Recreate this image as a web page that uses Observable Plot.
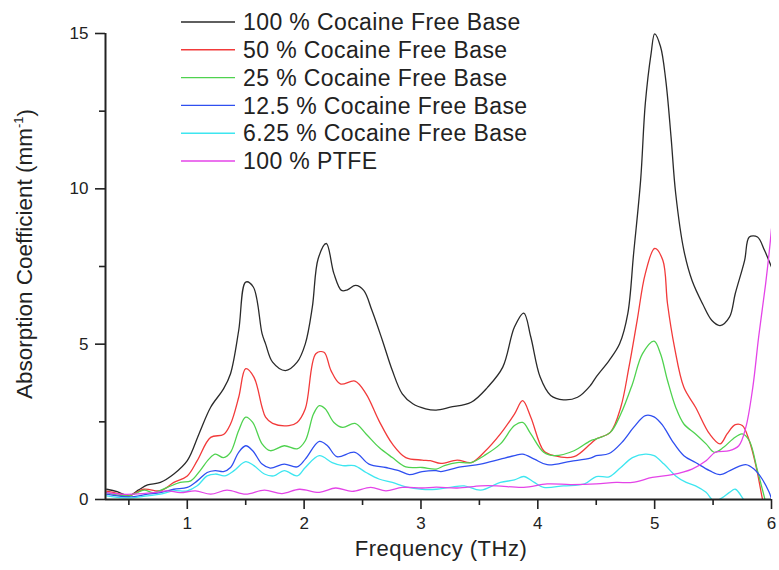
<!DOCTYPE html>
<html>
<head>
<meta charset="utf-8">
<script src="https://cdn.jsdelivr.net/npm/d3@7"></script>
<script src="https://cdn.jsdelivr.net/npm/@observablehq/plot@0.6"></script>
<style>
  html, body { margin: 0; padding: 0; background: #fff; }
  #chart { width: 779px; height: 570px; }
  svg text { font-family: "Liberation Sans", Arial, sans-serif; }
</style>
</head>
<body>
<div id="chart"></div>
<script>
// Absorption spectra, [frequency THz, absorption coefficient mm^-1]
const cocaine100 = [[0.31,0.33],[0.40,0.25],[0.50,0.12],[0.58,0.30],[0.66,0.47],[0.77,0.55],[0.885,0.82],[1.0,1.25],[1.10,2.11],[1.20,2.97],[1.31,3.56],[1.37,4.05],[1.44,5.44],[1.50,7.0],[1.565,6.84],[1.64,5.34],[1.67,5.01],[1.73,4.42],[1.84,4.15],[1.94,4.42],[2.01,5.01],[2.07,6.19],[2.12,7.75],[2.19,8.24],[2.255,7.27],[2.32,6.73],[2.37,6.75],[2.44,6.89],[2.51,6.73],[2.58,6.09],[2.67,5.12],[2.755,4.15],[2.84,3.40],[2.93,3.08],[3.04,2.92],[3.13,2.88],[3.25,2.97],[3.43,3.13],[3.57,3.61],[3.70,4.26],[3.80,5.55],[3.88,6.0],[3.94,5.23],[4.02,3.94],[4.11,3.35],[4.22,3.21],[4.34,3.29],[4.45,3.67],[4.50,3.95],[4.61,4.47],[4.70,5.01],[4.77,5.98],[4.82,7.92],[4.88,10.28],[4.92,12.75],[4.97,14.37],[5.00,14.99],[5.05,14.58],[5.095,13.5],[5.14,11.68],[5.18,9.85],[5.25,8.02],[5.32,7.05],[5.41,6.30],[5.49,5.76],[5.56,5.60],[5.64,5.87],[5.69,6.63],[5.77,7.70],[5.81,8.45],[5.88,8.45],[5.94,8.02],[6.0,7.48]];
const cocaine50 = [[0.31,0.27],[0.40,0.20],[0.50,0.12],[0.63,0.33],[0.77,0.28],[0.885,0.55],[1.0,0.76],[1.085,1.25],[1.20,2.0],[1.31,2.09],[1.37,2.43],[1.44,3.29],[1.50,4.21],[1.57,3.94],[1.64,2.97],[1.67,2.65],[1.73,2.45],[1.87,2.38],[1.94,2.48],[2.01,2.92],[2.10,4.69],[2.17,4.74],[2.23,4.15],[2.31,3.72],[2.435,3.81],[2.53,3.40],[2.64,2.54],[2.755,1.79],[2.87,1.35],[3.01,1.27],[3.08,1.25],[3.17,1.16],[3.31,1.27],[3.43,1.19],[3.54,1.52],[3.68,2.11],[3.80,2.75],[3.87,3.18],[3.94,2.65],[4.05,1.57],[4.14,1.41],[4.31,1.38],[4.45,1.79],[4.50,1.95],[4.62,2.16],[4.71,2.97],[4.78,4.26],[4.85,5.76],[4.92,7.27],[5.00,8.08],[5.07,7.70],[5.11,6.30],[5.17,4.90],[5.25,3.61],[5.35,2.97],[5.47,2.11],[5.56,1.79],[5.62,2.11],[5.69,2.41],[5.75,2.38],[5.81,1.89],[5.87,1.03],[5.92,0.06],[5.95,-0.5]];
const cocaine25 = [[0.31,0.22],[0.50,0.12],[0.63,0.30],[0.71,0.22],[0.83,0.39],[0.94,0.55],[1.03,0.60],[1.11,0.93],[1.185,1.30],[1.24,1.46],[1.31,1.35],[1.37,1.52],[1.44,2.22],[1.50,2.65],[1.56,2.48],[1.64,1.79],[1.71,1.57],[1.83,1.73],[1.94,1.63],[2.01,1.89],[2.08,2.75],[2.13,3.02],[2.18,2.92],[2.255,2.48],[2.33,2.32],[2.435,2.45],[2.53,2.11],[2.64,1.68],[2.755,1.35],[2.87,1.05],[3.01,1.03],[3.13,0.98],[3.20,1.09],[3.31,1.19],[3.43,1.19],[3.54,1.41],[3.68,1.79],[3.80,2.38],[3.87,2.48],[3.94,2.11],[4.05,1.52],[4.14,1.41],[4.31,1.57],[4.45,1.89],[4.50,1.95],[4.62,2.16],[4.71,2.75],[4.81,3.72],[4.895,4.69],[4.995,5.10],[5.05,4.69],[5.11,3.83],[5.18,2.97],[5.25,2.43],[5.35,2.11],[5.44,1.79],[5.51,1.52],[5.59,1.68],[5.67,1.95],[5.75,2.11],[5.81,1.89],[5.88,0.93],[5.94,0.06],[5.97,-0.4]];
const cocaine12 = [[0.31,0.17],[0.50,0.08],[0.66,0.17],[0.77,0.22],[0.885,0.33],[1.0,0.39],[1.085,0.60],[1.17,0.87],[1.24,0.93],[1.31,0.90],[1.37,1.03],[1.44,1.52],[1.50,1.73],[1.56,1.57],[1.64,1.14],[1.71,1.01],[1.83,1.14],[1.94,1.05],[2.01,1.30],[2.13,1.87],[2.20,1.73],[2.28,1.38],[2.435,1.52],[2.555,1.14],[2.70,1.03],[2.81,0.93],[2.90,0.80],[3.01,0.90],[3.13,0.93],[3.17,0.90],[3.34,1.05],[3.51,1.14],[3.68,1.30],[3.80,1.41],[3.87,1.46],[3.97,1.30],[4.08,1.12],[4.28,1.23],[4.45,1.33],[4.50,1.41],[4.61,1.48],[4.72,1.84],[4.82,2.32],[4.92,2.70],[4.995,2.66],[5.07,2.38],[5.15,1.89],[5.25,1.41],[5.35,1.19],[5.47,0.93],[5.56,0.80],[5.67,0.98],[5.78,1.12],[5.85,0.98],[5.92,0.66],[5.98,0.23],[6.0,0.02]];
const cocaine6 = [[0.31,0.12],[0.50,0.05],[0.66,0.12],[0.77,0.17],[0.885,0.28],[1.0,0.28],[1.085,0.44],[1.17,0.76],[1.24,0.82],[1.32,0.76],[1.40,0.93],[1.50,1.22],[1.57,1.09],[1.66,0.82],[1.74,0.76],[1.83,0.93],[1.94,0.76],[2.01,1.03],[2.13,1.41],[2.24,1.19],[2.33,1.09],[2.43,1.09],[2.53,0.87],[2.64,0.66],[2.755,0.55],[2.87,0.41],[3.01,0.33],[3.13,0.33],[3.25,0.39],[3.37,0.44],[3.51,0.30],[3.68,0.55],[3.80,0.63],[3.88,0.74],[3.97,0.55],[4.05,0.39],[4.22,0.44],[4.40,0.50],[4.50,0.74],[4.61,0.73],[4.71,1.03],[4.81,1.35],[4.92,1.46],[4.995,1.41],[5.08,1.14],[5.18,0.76],[5.27,0.55],[5.35,0.44],[5.44,0.23],[5.51,-0.05],[5.58,0.06],[5.64,0.23],[5.69,0.33],[5.75,0.06],[5.78,-0.15]];
const ptfe100 = [[0.31,0.22],[0.43,0.17],[0.54,0.17],[0.71,0.22],[0.83,0.28],[0.94,0.22],[1.07,0.28],[1.20,0.17],[1.34,0.30],[1.50,0.17],[1.66,0.30],[1.81,0.19],[1.96,0.33],[2.13,0.23],[2.27,0.37],[2.41,0.26],[2.57,0.39],[2.70,0.28],[2.84,0.39],[3.01,0.37],[3.13,0.40],[3.31,0.37],[3.51,0.44],[3.65,0.44],[3.88,0.39],[4.08,0.50],[4.28,0.48],[4.50,0.50],[4.67,0.55],[4.81,0.55],[4.98,0.71],[5.15,0.80],[5.32,0.98],[5.44,1.25],[5.52,1.52],[5.64,1.57],[5.72,1.73],[5.78,2.32],[5.84,3.61],[5.89,5.23],[5.95,6.95],[5.985,8.13],[6.0,8.72]];

const seriesNames = ["100 % Cocaine Free Base", "50 % Cocaine Free Base", "25 % Cocaine Free Base", "12.5 % Cocaine Free Base", "6.25 % Cocaine Free Base", "100 % PTFE"];
const seriesData = [cocaine100, cocaine50, cocaine25, cocaine12, cocaine6, ptfe100];
const seriesColors = ["#2a2a2a", "#f23a3a", "#4fd24f", "#2f4ff0", "#3ee6f0", "#e444e8"];

const xTicks = [1, 2, 3, 4, 5, 6];
const xMinorTicks = [0.5, 1.5, 2.5, 3.5, 4.5, 5.5];
const yTicks = [0, 5, 10, 15];
const yMinorTicks = [2.5, 7.5, 12.5];

// long table for Plot
const rows = seriesData.flatMap((pts, i) => pts.map(([f, a]) => ({series: seriesNames[i], f, a})));

const chart = Plot.plot({
  width: 779,
  height: 570,
  marginLeft: 105,
  marginRight: 8,
  marginTop: 33,
  marginBottom: 71,
  style: {background: "#fff", color: "#222", fontFamily: "Liberation Sans, Arial, sans-serif"},
  x: {domain: [0.3, 6]},
  y: {domain: [0, 15]},
  color: {domain: seriesNames, range: seriesColors},
  marks: [
    Plot.line(rows, {x: "f", y: "a", z: "series", stroke: "series", strokeWidth: 1.3, curve: "catmull-rom", clip: true}),
    Plot.axisX({ticks: xTicks, tickSize: 10, tickPadding: 7, fontSize: 17, strokeWidth: 1.6, tickFormat: d => String(d), label: null}),
    Plot.axisX({ticks: xMinorTicks, tickSize: 6, tickFormat: () => "", strokeWidth: 1.6, label: null}),
    Plot.axisY({ticks: yTicks, tickSize: 10, tickPadding: 7, fontSize: 17, strokeWidth: 1.6, tickFormat: d => String(d), label: null}),
    Plot.axisY({ticks: yMinorTicks, tickSize: 6, tickFormat: () => "", strokeWidth: 1.6, label: null}),
    Plot.ruleX([0.3], {stroke: "#222", strokeWidth: 2}),
    Plot.ruleY([0], {stroke: "#222", strokeWidth: 2})
  ]
});

document.getElementById("chart").appendChild(chart);

const svg = d3.select(chart);

// axis titles
const yTitle = svg.append("text")
  .attr("transform", "translate(32,254) rotate(-90)")
  .attr("text-anchor", "middle")
  .attr("font-size", 22.5)
  .attr("fill", "#222");
yTitle.append("tspan").text("Absorption Coefficient (mm");
yTitle.append("tspan").attr("font-size", 13).attr("dy", "-0.7em").text("-1");
yTitle.append("tspan").attr("dy", "0.45em").text(")");

svg.append("text")
  .attr("x", 441)
  .attr("y", 556)
  .attr("text-anchor", "middle")
  .attr("font-size", 22)
  .attr("letter-spacing", 0.5)
  .attr("fill", "#222")
  .text("Frequency (THz)");

// legend
const legend = svg.append("g").attr("text-anchor", "start");
seriesNames.forEach((name, i) => {
  const cy = 22 + i * 27.8;
  legend.append("line")
    .attr("x1", 181).attr("x2", 235)
    .attr("y1", cy).attr("y2", cy)
    .attr("stroke", seriesColors[i]).attr("stroke-width", 1.4);
  legend.append("text")
    .attr("x", 243).attr("y", cy).attr("dy", "0.36em")
    .attr("text-anchor", "start")
    .attr("font-size", 23)
    .attr("letter-spacing", 0.4)
    .attr("fill", "#222")
    .text(name);
});
</script>
</body>
</html>
